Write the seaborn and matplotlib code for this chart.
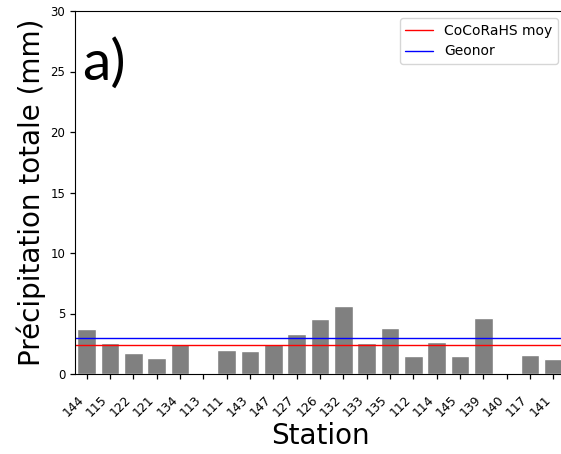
import matplotlib
matplotlib.use("Agg")
import matplotlib.pyplot as plt
import seaborn as sns
import numpy as np
import pandas as pd

stations = ["144", "115", "122", "121", "134", "113", "111", "143", "147", "127", "126",
            "132", "133", "135", "112", "114", "145", "139", "140", "117", "141"]
precip = [3.72, 2.6, 1.7, 1.3, 2.45, 0.0, 1.96, 1.87, 2.45, 3.33, 4.55,
          5.62, 2.59, 3.8, 1.46, 2.67, 1.46, 4.63, 0.0, 1.55, 1.21]
cocorahs_moy = 2.42
geonor = 2.95
y_ticks = [0, 5, 10, 15, 20, 25, 30]

df = pd.DataFrame({"Station": stations, "Precip": precip})

sns.set_style("ticks")
plt.rcParams["font.family"] = ["DejaVu Sans"]
plt.rcParams["text.color"] = "black"
plt.rcParams["axes.labelcolor"] = "black"
plt.rcParams["xtick.color"] = "black"
plt.rcParams["ytick.color"] = "black"

fig = plt.figure(figsize=(5.61, 4.54), dpi=100)
ax = fig.add_axes([75 / 561, 1 - 374 / 454, 490 / 561, 363 / 454])

sns.barplot(data=df, x="Station", y="Precip", color="grey", saturation=1,
            width=0.8, ax=ax, order=stations)
ax.axhline(cocorahs_moy, color="red", lw=1, label="CoCoRaHS moy")
ax.axhline(geonor, color="blue", lw=1, label="Geonor")

ax.set_ylim(0, 30)
ax.set_xlim(-0.5, 20.5)
ax.set_yticks(y_ticks)
ax.tick_params(axis="y", labelsize=8.5, length=3.5, width=0.9, colors="black")
ax.tick_params(axis="x", labelsize=9, length=3.5, width=0.9, colors="black",
               labelrotation=45, pad=10)
for lbl in ax.get_xticklabels():
    lbl.set_horizontalalignment("right")

ax.set_ylabel("Précipitation totale (mm)", fontsize=20, labelpad=3, color="black")
ax.set_xlabel("Station", fontsize=20, labelpad=2, color="black")
ax.text(0.015, 0.81, "a)", transform=ax.transAxes, fontsize=41, family=["Lato", "DejaVu Sans"],
        va="baseline", ha="left", color="black")

ax.legend(loc="upper right", fontsize=10, frameon=True)
for s in ax.spines.values():
    s.set_color("black")

fig.savefig("out.png", dpi=100)
